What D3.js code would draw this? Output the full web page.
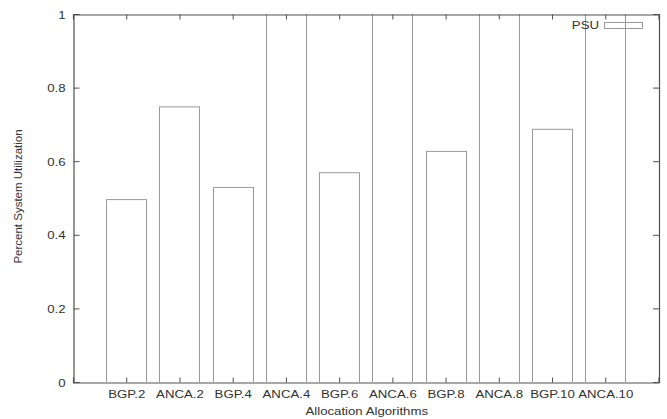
<!DOCTYPE html>
<html><head><meta charset="utf-8">
<script src="https://cdn.jsdelivr.net/npm/d3@7"></script>
<style>body{margin:0;background:#fff}svg{display:block}text{font-family:"Liberation Sans",Arial,sans-serif;fill:#333}</style>
</head><body>
<svg id="c" width="667" height="419"></svg>
<script>
const categories = ["BGP.2","ANCA.2","BGP.4","ANCA.4","BGP.6","ANCA.6","BGP.8","ANCA.8","BGP.10","ANCA.10"];
const psuValues = [0.497, 0.749, 0.530, 1.05, 0.570, 1.05, 0.628, 1.05, 0.688, 1.05];
const yTicks = [0, 0.2, 0.4, 0.6, 0.8, 1];
const seriesName = "PSU";

const svg = d3.select("#c");
const L = 73, R = 658.5, T = 14, B = 382;
const FS = 11.5, SX = 1.15;
const x = d3.scaleLinear().domain([-1, categories.length]).range([L, R]);
const y = d3.scaleLinear().domain([0, 1]).range([B, T]);
const barW = x(0.375) - x(0);

svg.append("clipPath").attr("id","clip").append("rect")
  .attr("x", L).attr("y", T).attr("width", R-L).attr("height", B-T);

svg.append("g").attr("clip-path","url(#clip)")
  .selectAll("rect").data(psuValues).join("rect")
  .attr("x", (d,i) => Math.round(x(i) - barW) + 0.5)
  .attr("width", Math.round(2*barW))
  .attr("y", d => y(d) + 0.5)
  .attr("height", d => y(0) - y(d))
  .attr("fill","none").attr("stroke","#999").attr("stroke-width",1);

// axes
const axisColor = "#505050";
const yAxisL = d3.axisLeft(y).tickValues(yTicks).tickSize(-6).tickFormat(d3.format("~g"));
const gL = svg.append("g").attr("transform",`translate(${L+0.5},0)`).call(yAxisL);
const yAxisR = d3.axisRight(y).tickValues(yTicks).tickSize(-6).tickFormat("");
const gR = svg.append("g").attr("transform",`translate(${R+0.5},0)`).call(yAxisR);
const xAxisB = d3.axisBottom(x).tickValues(d3.range(categories.length)).tickSize(-5).tickFormat(i => categories[i]);
const gB = svg.append("g").attr("transform",`translate(0,${B+0.5})`).call(xAxisB);
const xAxisT = d3.axisTop(x).tickValues(d3.range(categories.length)).tickSize(-5).tickFormat("");
const gT = svg.append("g").attr("transform",`translate(0,${T+0.5})`).call(xAxisT);
[gL,gR,gB,gT].forEach(g => {
  g.select(".domain").attr("stroke", axisColor).attr("stroke-width",1.2);
  g.selectAll(".tick line").attr("stroke", axisColor);
  g.selectAll(".tick text").attr("font-size", FS).attr("fill","#333").attr("font-family","Liberation Sans, Arial, sans-serif");
});
gL.selectAll(".tick text").attr("x", -8/SX).attr("dy","0.35em").attr("transform",`scale(${SX},1)`);
gB.selectAll(".tick text").attr("y", 15.5).attr("dy", "0").attr("transform",`scale(${SX},1)`);

// axis titles
svg.append("text").attr("transform", `translate(${(L+R)/2+1},415) scale(${SX},1)`).attr("text-anchor","middle")
  .attr("font-size", FS).text("Allocation Algorithms");
svg.append("text").attr("transform", `translate(21.5,196.5) rotate(-90)`)
  .attr("text-anchor","middle").attr("font-size", FS).text("Percent System Utilization");

// legend
svg.append("text").attr("transform", `translate(599,29.3) scale(${SX},1)`).attr("text-anchor","end").attr("font-size", FS).text(seriesName);
svg.append("rect").attr("x", 604.5).attr("y", 22.5).attr("width", 38).attr("height", 6)
  .attr("fill","none").attr("stroke","#999");
</script>
</body></html>
